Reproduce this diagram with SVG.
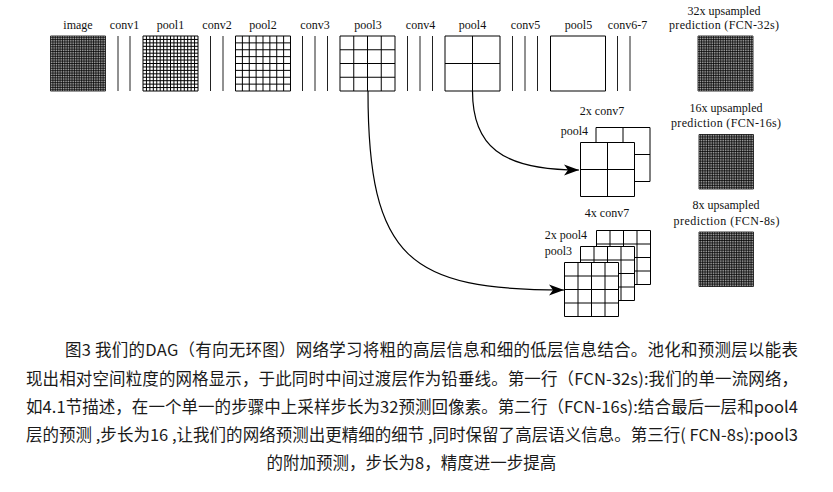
<svg xmlns="http://www.w3.org/2000/svg" xmlns:xlink="http://www.w3.org/1999/xlink" width="833" height="492" viewBox="0 0 833 492">
<style>
.gl{fill:none;stroke:#000;stroke-width:1;vector-effect:non-scaling-stroke}
.gd{fill:none;stroke:#000;stroke-width:0.8;vector-effect:non-scaling-stroke}
.bg{fill:#fff;stroke:none}
.bx{fill:#fff;stroke:#000;stroke-width:1;vector-effect:non-scaling-stroke}
.conv{stroke:#222;stroke-width:1}
.lbl{font-family:"Liberation Serif","DejaVu Serif",serif;font-size:12px;fill:#111;text-anchor:middle}
.lbe{font-family:"Liberation Serif","DejaVu Serif",serif;font-size:12px;fill:#111;text-anchor:end}
.cap{font-family:"Noto Sans CJK SC","Noto Sans",sans-serif;font-size:16.5px;fill:#1a1a1a}
.arr{fill:none;stroke:#000;stroke-width:1.2}
</style>
<defs>
<marker id="ah" markerUnits="userSpaceOnUse" markerWidth="20" markerHeight="14" refX="16" refY="7" orient="auto" viewBox="0 0 20 14">
<path d="M16,7 L1,1.5 L5,7 L1,12.5 Z" fill="#000"/>
</marker>
<g id="g32"><rect class="bg" width="32" height="32"/><path class="gd" d="M0 0V32M1 0V32M2 0V32M3 0V32M4 0V32M5 0V32M6 0V32M7 0V32M8 0V32M9 0V32M10 0V32M11 0V32M12 0V32M13 0V32M14 0V32M15 0V32M16 0V32M17 0V32M18 0V32M19 0V32M20 0V32M21 0V32M22 0V32M23 0V32M24 0V32M25 0V32M26 0V32M27 0V32M28 0V32M29 0V32M30 0V32M31 0V32M32 0V32M0 0H32M0 1H32M0 2H32M0 3H32M0 4H32M0 5H32M0 6H32M0 7H32M0 8H32M0 9H32M0 10H32M0 11H32M0 12H32M0 13H32M0 14H32M0 15H32M0 16H32M0 17H32M0 18H32M0 19H32M0 20H32M0 21H32M0 22H32M0 23H32M0 24H32M0 25H32M0 26H32M0 27H32M0 28H32M0 29H32M0 30H32M0 31H32M0 32H32"/></g>
<g id="g16"><rect class="bg" width="16" height="16"/><path class="gl" d="M0 0V16M1 0V16M2 0V16M3 0V16M4 0V16M5 0V16M6 0V16M7 0V16M8 0V16M9 0V16M10 0V16M11 0V16M12 0V16M13 0V16M14 0V16M15 0V16M16 0V16M0 0H16M0 1H16M0 2H16M0 3H16M0 4H16M0 5H16M0 6H16M0 7H16M0 8H16M0 9H16M0 10H16M0 11H16M0 12H16M0 13H16M0 14H16M0 15H16M0 16H16"/></g>
<g id="g8"><rect class="bg" width="8" height="8"/><path class="gl" d="M0 0V8M1 0V8M2 0V8M3 0V8M4 0V8M5 0V8M6 0V8M7 0V8M8 0V8M0 0H8M0 1H8M0 2H8M0 3H8M0 4H8M0 5H8M0 6H8M0 7H8M0 8H8"/></g>
<g id="g4"><rect class="bg" width="4" height="4"/><path class="gl" d="M0 0V4M1 0V4M2 0V4M3 0V4M4 0V4M0 0H4M0 1H4M0 2H4M0 3H4M0 4H4"/></g>
<g id="g2"><rect class="bg" width="2" height="2"/><path class="gl" d="M0 0V2M1 0V2M2 0V2M0 0H2M0 1H2M0 2H2"/></g>
<g id="g1"><rect class="bx" width="1" height="1"/></g>
</defs>
<rect width="833" height="492" fill="#fff"/>

<g id="image"><use href="#g32" transform="translate(50.5 36) scale(1.71875)"/><text class="lbl" x="78" y="29">image</text></g>
<g id="conv1"><path class="conv" d="M118 36V91M130 36V91"/><text class="lbl" x="124.5" y="29">conv1</text></g>
<g id="pool1"><use href="#g16" transform="translate(143 36) scale(3.4375)"/><text class="lbl" x="170.5" y="29">pool1</text></g>
<g id="conv2"><path class="conv" d="M210.5 36V91M223 36V91"/><text class="lbl" x="217" y="29">conv2</text></g>
<g id="pool2"><use href="#g8" transform="translate(235.5 36) scale(6.875)"/><text class="lbl" x="263" y="29">pool2</text></g>
<g id="conv3"><path class="conv" d="M302.5 36V91M315 36V91M327.5 36V91"/><text class="lbl" x="315" y="29">conv3</text></g>
<g id="pool3"><use href="#g4" transform="translate(340 36) scale(13.75)"/><text class="lbl" x="368" y="29">pool3</text></g>
<g id="conv4"><path class="conv" d="M407.5 36V91M420 36V91M432.5 36V91"/><text class="lbl" x="420.5" y="29">conv4</text></g>
<g id="pool4"><use href="#g2" transform="translate(445 36) scale(27.5)"/><text class="lbl" x="472.5" y="29">pool4</text></g>
<g id="conv5"><path class="conv" d="M512.5 36V91M525 36V91M537.5 36V91"/><text class="lbl" x="525.5" y="29">conv5</text></g>
<g id="pool5"><use href="#g1" transform="translate(550.5 36) scale(55)"/><text class="lbl" x="578.5" y="29">pool5</text></g>
<g id="conv6-7"><path class="conv" d="M617.5 36V91M630 36V91"/><text class="lbl" x="627.5" y="29">conv6-7</text></g>
<g id="fcn32"><use href="#g32" transform="translate(698 36) scale(1.71875)"/><text class="lbl" x="724" y="14.5">32x upsampled</text><text class="lbl" x="724" y="29" textLength="110" lengthAdjust="spacing">prediction (FCN-32s)</text></g>

<g id="row2">
<use href="#g2" transform="translate(596 127.5) scale(27)"/>
<use href="#g2" transform="translate(580.5 142.5) scale(27)"/>
<text class="lbl" x="602" y="115">2x conv7</text>
<text class="lbe" x="588" y="135">pool4</text>
</g>
<g id="fcn16"><use href="#g32" transform="translate(699 134.5) scale(1.703)"/><text class="lbl" x="726" y="112">16x upsampled</text><text class="lbl" x="726" y="127" textLength="110" lengthAdjust="spacing">prediction (FCN-16s)</text></g>

<g id="row3">
<use href="#g4" transform="translate(596.5 230.5) scale(13.5)"/>
<use href="#g4" transform="translate(580.5 246.5) scale(13.5)"/>
<use href="#g4" transform="translate(564.5 262.5) scale(13.5)"/>
<text class="lbl" x="607" y="217">4x conv7</text>
<text class="lbe" x="587" y="239">2x pool4</text>
<text class="lbe" x="572" y="255">pool3</text>
</g>
<g id="fcn8"><use href="#g32" transform="translate(699 232) scale(1.703)"/><text class="lbl" x="726" y="208.5">8x upsampled</text><text class="lbl" x="726.5" y="225" textLength="106" lengthAdjust="spacing">prediction (FCN-8s)</text></g>

<g id="connectors">
<path class="arr" d="M472.5 91 C472.5 145 500 170 579 170" marker-end="url(#ah)"/>
<path class="arr" d="M368 91 C368 260 410 290 564 290" marker-end="url(#ah)"/>
</g>

<g id="caption">
<text class="cap" x="65" y="356" textLength="733" lengthAdjust="spacing">图3  我们的DAG（有向无环图）网络学习将粗的高层信息和细的低层信息结合。池化和预测层以能表</text>
<text class="cap" x="26" y="384.5" textLength="772" lengthAdjust="spacing">现出相对空间粒度的网格显示，于此同时中间过渡层作为铅垂线。第一行（FCN-32s):我们的单一流网络，</text>
<text class="cap" x="26" y="412.5" textLength="772" lengthAdjust="spacing">如4.1节描述，在一个单一的步骤中上采样步长为32预测回像素。第二行（FCN-16s):结合最后一层和pool4</text>
<text class="cap" x="26" y="440.5" textLength="772" lengthAdjust="spacing">层的预测 ,步长为16 ,让我们的网络预测出更精细的细节 ,同时保留了高层语义信息。第三行( FCN-8s):pool3</text>
<text class="cap" x="266.5" y="468.5">的附加预测，步长为8，精度进一步提高</text>
</g>
</svg>
